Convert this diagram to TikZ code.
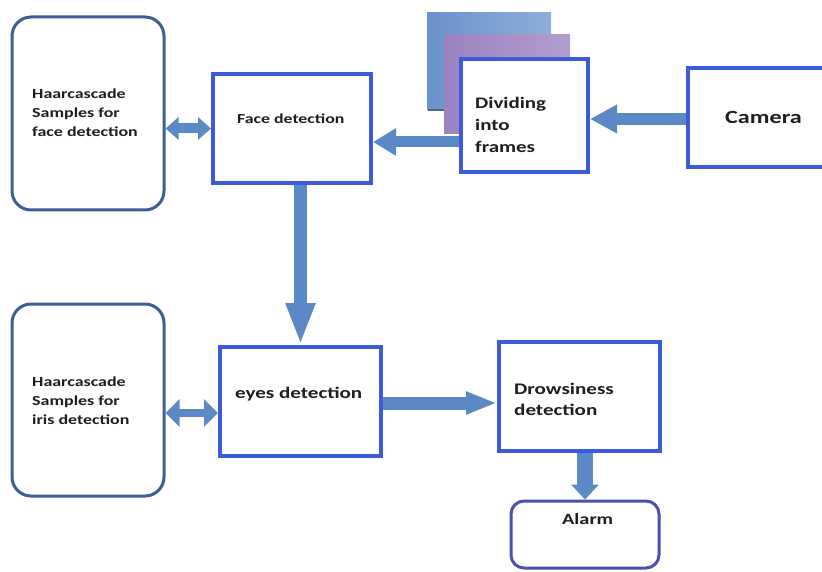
\documentclass[tikz,border=0pt]{standalone}
\usepackage{fontspec}
\setmainfont{Carlito}[FakeStretch=1.3]
\usetikzlibrary{arrows.meta}
\definecolor{roundc}{HTML}{3D5F94}
\definecolor{boxc}{HTML}{3B5BDB}
\definecolor{alarmc}{HTML}{4B4FAE}
\definecolor{arrc}{HTML}{5B89C6}
\definecolor{txtc}{HTML}{1E1E1E}
\definecolor{fr1a}{HTML}{6A92CB}
\definecolor{fr1b}{HTML}{8DAED9}
\definecolor{fr2a}{HTML}{9A83BF}
\definecolor{fr2b}{HTML}{B29DCF}
\newcommand{\mylines}[1]{\begin{tabular}[t]{@{}l@{}}#1\end{tabular}}
\begin{document}
\begin{tikzpicture}[x=1pt,y=-1pt,
  rbox/.style={draw=roundc, line width=3pt, rounded corners=19pt, fill=white, inner sep=0pt},
  sbox/.style={draw=boxc, line width=4pt, fill=white, inner sep=0pt},
  abox/.style={draw=alarmc, line width=3pt, rounded corners=13pt, fill=white, inner sep=0pt},
  txt/.style={anchor=base west, inner sep=0pt, text=txtc},
  blk/.style n args={3}{draw=arrc, line width=#1, -{Triangle[width=#2,length=#3]}},
  dblk/.style n args={3}{draw=arrc, line width=#1, {Triangle[width=#2,length=#3]}-{Triangle[width=#2,length=#3]}}
]
\useasboundingbox (0,0) rectangle (822,572);
\clip (0,0) rectangle (822,572);

% boxes
\node[rbox, minimum width=152pt, minimum height=193pt] (hf) at (88,113.5) {};
\node[sbox, minimum width=158pt, minimum height=109pt] (face) at (292,128.5) {};
\node[sbox, minimum width=138pt, minimum height=99pt] (cam) at (757,117.5) {};
\node[rbox, minimum width=152pt, minimum height=192pt] (hi) at (88,400) {};
\node[sbox, minimum width=161pt, minimum height=109pt] (eyes) at (300.5,401.5) {};
\node[sbox, minimum width=161pt, minimum height=109pt] (drow) at (579.5,396.5) {};
\node[abox, minimum width=148pt, minimum height=67pt] (alarm) at (585,534.5) {};

% helper coordinates for connector heights
\coordinate (dfy) at (524.5,142);
\coordinate (cdy) at (700,119);
\coordinate (hiy) at (200,413);
\coordinate (edy) at (440,403);

% arrow behind frames
\draw[blk={11pt}{26pt}{23pt}] (dfy) -- (face.east |- dfy);

% stacked frames
\shade[left color=fr1a, right color=fr1b] (427,13) rectangle (551,110);
\draw[fr1a!70!black, line width=1.5pt] (428,110) -- (551,110);
\shade[left color=fr2a, right color=fr2b] (444,35) rectangle (570,134);
\node[sbox, minimum width=127pt, minimum height=113pt] (div) at (524.5,115.5) {};

% connectors
\draw[blk={12pt}{27pt}{27pt}] (cam.west |- cdy) -- (div.east |- cdy);
\draw[dblk={10pt}{22pt}{13pt}] (hf.east |- face.west) -- (face.west);
\draw[blk={13pt}{27pt}{42pt}] (eyes.north |- face.south) -- (eyes.north);
\draw[dblk={8pt}{27pt}{14pt}] (hi.east |- hiy) -- (eyes.west |- hiy);
\draw[blk={13pt}{21pt}{31pt}] (eyes.east |- edy) -- (drow.west |- edy);
\draw[blk={16pt}{27pt}{15pt}] (alarm.north |- drow.south) -- (alarm.north);

% texts
\node[txt, font=\bfseries\fontsize{13.8}{19}\selectfont] (hft) at (32,99) {\mylines{Haarcascade\\Samples for\\face detection}};
\node[txt, font=\bfseries\fontsize{13.7}{19}\selectfont] (facet) at (237,124) {Face detection};
\node[txt, font=\bfseries\fontsize{16.1}{22}\selectfont] (divt) at (475,109) {\mylines{Dividing\\into\\frames}};
\node[txt, font=\bfseries\fontsize{18.6}{22}\selectfont] (camt) at (725,124) {Camera};
\node[txt, font=\bfseries\fontsize{13.8}{19}\selectfont] (hit) at (32,386) {\mylines{Haarcascade\\Samples for\\iris detection}};
\node[txt, font=\bfseries\fontsize{16.2}{21}\selectfont] (eyest) at (235,398) {eyes detection};
\node[txt, font=\bfseries\fontsize{16.2}{21}\selectfont] (drowt) at (514,394) {\mylines{Drowsiness\\detection}};
\node[txt, font=\bfseries\fontsize{15.6}{20}\selectfont] (alarmt) at (562,524) {Alarm};
\end{tikzpicture}
\end{document}
